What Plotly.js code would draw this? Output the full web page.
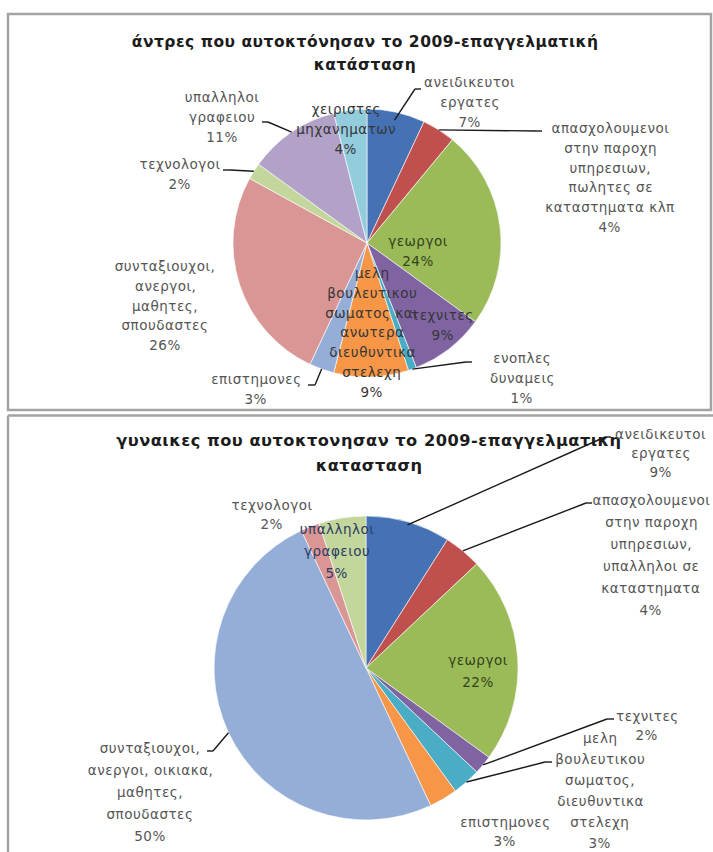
<!DOCTYPE html>
<html>
<head>
<meta charset="utf-8">
<script src="https://cdn.plot.ly/plotly-3.0.1.min.js"></script>
<style>
  html, body { margin: 0; padding: 0; background: #ffffff; }
  #chart { width: 713px; height: 852px; }
  /* slightly airy data labels */
  #chart .annotation-text { letter-spacing: 0.5px; }
</style>
</head>
<body>
<div id="chart"></div>
<script>
// ---- Data: suicides in 2009 by occupational status (percent) ----
// Men
const menLabels = [
  'ανειδικευτοι\nεργατες',
  'απασχολουμενοι\nστην παροχη\nυπηρεσιων,\nπωλητες σε\nκαταστηματα κλπ',
  'γεωργοι',
  'τεχνιτες',
  'ενοπλες\nδυναμεις',
  'μελη\nβουλευτικου\nσωματος και\nανωτερα\nδιευθυντικα\nστελεχη',
  'επιστημονες',
  'συνταξιουχοι,\nανεργοι,\nμαθητες,\nσπουδαστες',
  'τεχνολογοι',
  'υπαλληλοι\nγραφειου',
  'χειριστες\nμηχανηματων'
];
const menValues = [7, 4, 24, 9, 1, 9, 3, 26, 2, 11, 4];
const menTitle = ['άντρες που αυτοκτόνησαν το 2009-επαγγελματική', 'κατάσταση'];

// Women
const womenLabels = [
  'ανειδικευτοι\nεργατες',
  'απασχολουμενοι\nστην παροχη\nυπηρεσιων,\nυπαλληλοι σε\nκαταστηματα',
  'γεωργοι',
  'τεχνιτες',
  'μελη\nβουλευτικου\nσωματος,\nδιευθυντικα\nστελεχη',
  'επιστημονες',
  'συνταξιουχοι,\nανεργοι, οικιακα,\nμαθητες,\nσπουδαστες',
  'τεχνολογοι',
  'υπαλληλοι\nγραφειου'
];
const womenValues = [9, 4, 22, 2, 3, 3, 50, 2, 5];
const womenTitle = ['γυναικες που αυτοκτονησαν το 2009-επαγγελματικη', 'κατασταση'];

// ---- Styling ----
const W = 713, H = 852;
const sliceColors = ['#4572B4', '#C0504D', '#9BBB59', '#8064A2', '#4BACC6', '#F79646',
                     '#95AED8', '#D99694', '#C3D69B', '#B3A2C7', '#93CDDD'];
const FONT = 'DejaVu Sans, Noto Sans, sans-serif';
const OUT = '#555555', IN = '#363636';

// pie geometry in pixels
const menPie = { cx: 367, cy: 243, r: 134 };
const womenPie = { cx: 366, cy: 668, r: 152 };

// label placement: centre x, first-line y, optional line step, colour, leader (label-side points, radius factor)
const menPlace = [
  { x: 470, y: 82, color: OUT, lead: [[421, 89], [415, 89]], k: 0.94 },
  { x: 610, y: 128, color: OUT, lead: [[542, 131], [536, 131]], k: 1.0 },
  { x: 418, y: 241, color: '#33431a' },
  { x: 443, y: 315, color: IN },
  { x: 522, y: 358, color: OUT, lead: [[472, 362], [466, 362]], k: 1.0 },
  { x: 372, y: 273, color: IN },
  { x: 256, y: 379, color: OUT, lead: [[308, 385], [315, 385]], k: 1.0 },
  { x: 165, y: 266, color: OUT },
  { x: 180, y: 164, color: OUT, lead: [[223, 170], [230, 170]], k: 1.0 },
  { x: 222, y: 97, color: OUT, lead: [[262, 122], [268, 122]], k: 1.0 },
  { x: 346, y: 109, color: IN }
];
const womenPlace = [
  { x: 661, y: 434, step: 19, color: OUT, lead: [[611, 437], [605, 437]], k: 0.98 },
  { x: 651, y: 500, color: OUT, lead: [[592, 503], [586, 503]], k: 1.0 },
  { x: 478, y: 660, color: '#33431a' },
  { x: 647, y: 716, step: 19, color: OUT, lead: [[614, 719], [607, 719]], k: 1.0 },
  { x: 600, y: 738, step: 21, color: OUT, lead: [[552, 762], [545, 762]], k: 1.0 },
  { x: 505, y: 822, step: 19, color: OUT },
  { x: 150, y: 748, color: OUT, lead: [[207, 751], [213, 751]], k: 1.0 },
  { x: 272, y: 505, step: 19, color: OUT },
  { x: 337, y: 529, color: '#2c3b63' }
];

const px = p => p / W;
const py = p => 1 - p / H;

function pieTrace(labels, values, geo) {
  return {
    type: 'pie',
    labels: labels.map(s => s.replace(/\n/g, ' ')),
    values: values,
    sort: false,
    direction: 'clockwise',
    rotation: 0,
    textinfo: 'none',
    hoverinfo: 'label+percent',
    showlegend: false,
    marker: { colors: sliceColors.slice(0, values.length), line: { color: '#ffffff', width: 0.6 } },
    domain: {
      x: [px(geo.cx - geo.r), px(geo.cx + geo.r)],
      y: [py(geo.cy + geo.r), py(geo.cy - geo.r)]
    }
  };
}

const annotations = [];
const shapes = [];

function addTitle(lines, cx, y0, step, size) {
  lines.forEach((t, i) => annotations.push({
    text: t, xref: 'paper', yref: 'paper', x: px(cx), y: py(y0 + i * step),
    xanchor: 'center', yanchor: 'middle', showarrow: false,
    font: { family: FONT, size: size, color: '#1c1c1c', weight: 'bold' }
  }));
}

function addLabels(labels, values, place, geo, defStep) {
  const total = values.reduce((a, b) => a + b, 0);
  let cum = 0;
  labels.forEach((lab, i) => {
    const mid = (cum + values[i] / 2) / total * 2 * Math.PI;
    cum += values[i];
    const p = place[i];
    const step = p.step || defStep;
    const lines = lab.split('\n').concat([values[i] + '%']);
    lines.forEach((t, j) => annotations.push({
      text: t, xref: 'paper', yref: 'paper', x: px(p.x), y: py(p.y + j * step),
      xanchor: 'center', yanchor: 'middle', showarrow: false,
      font: { family: FONT, size: 13.5, color: p.color }
    }));
    if (p.lead) {
      const end = [geo.cx + geo.r * p.k * Math.sin(mid), geo.cy - geo.r * p.k * Math.cos(mid)];
      const pts = p.lead.concat([end]);
      for (let s = 0; s < pts.length - 1; s++) {
        shapes.push({
          type: 'line', xref: 'paper', yref: 'paper',
          x0: px(pts[s][0]), y0: py(pts[s][1]), x1: px(pts[s + 1][0]), y1: py(pts[s + 1][1]),
          line: { color: '#1a1a1a', width: 1.4 }
        });
      }
    }
  });
}

// panel frames
const frame = { color: '#a3a3a3', width: 2.5 };
shapes.push({ type: 'rect', xref: 'paper', yref: 'paper', x0: px(8), y0: py(410), x1: px(711), y1: py(14), line: frame });
shapes.push({ type: 'line', xref: 'paper', yref: 'paper', x0: px(8), y0: py(415.5), x1: px(713), y1: py(415.5), line: frame });
shapes.push({ type: 'line', xref: 'paper', yref: 'paper', x0: px(8), y0: py(415.5), x1: px(8), y1: py(852), line: frame });

addTitle(menTitle, 365, 42, 23, 15.5);
addTitle(womenTitle, 369, 440, 25, 16.2);
addLabels(menLabels, menValues, menPlace, menPie, 19.8);
addLabels(womenLabels, womenValues, womenPlace, womenPie, 22);

const layout = {
  width: W, height: H,
  margin: { l: 0, r: 0, t: 0, b: 0 },
  paper_bgcolor: '#ffffff',
  plot_bgcolor: '#ffffff',
  showlegend: false,
  annotations: annotations,
  shapes: shapes
};

Plotly.newPlot('chart', [pieTrace(menLabels, menValues, menPie), pieTrace(womenLabels, womenValues, womenPie)],
  layout, { displayModeBar: false, staticPlot: true });
</script>
</body>
</html>
